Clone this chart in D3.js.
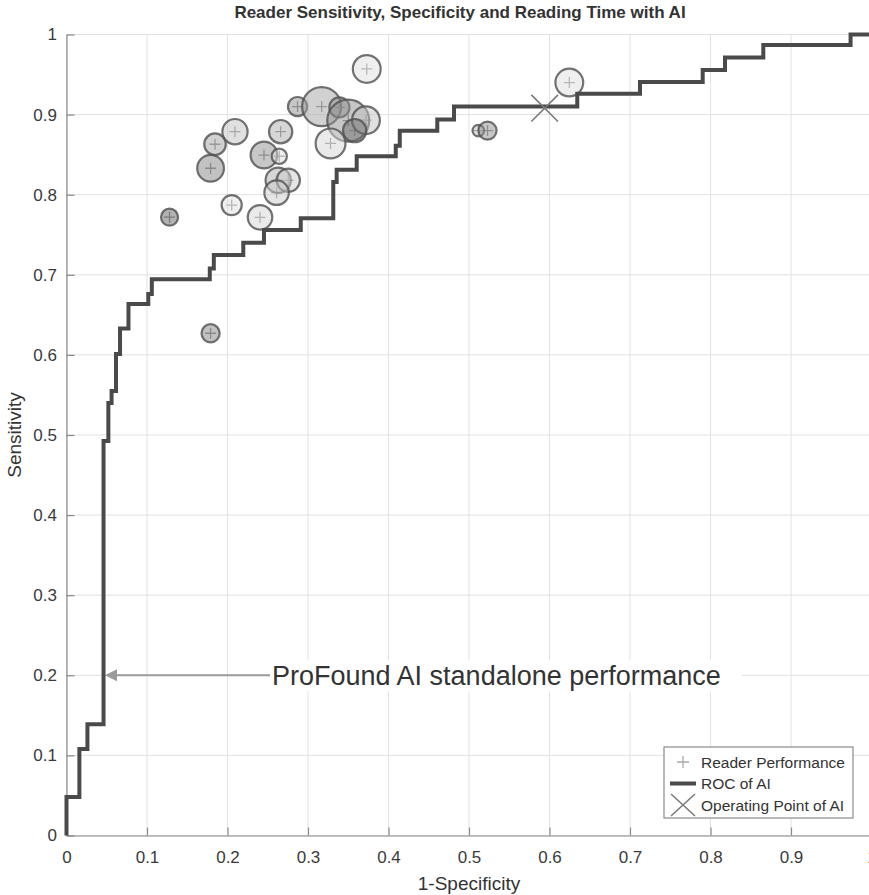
<!DOCTYPE html>
<html>
<head>
<meta charset="utf-8">
<script src="https://cdn.jsdelivr.net/npm/d3@7"></script>
<style>
  html, body { margin: 0; padding: 0; background: #fff; }
  svg { display: block; font-family: "Liberation Sans", Arial, Helvetica, sans-serif; }
</style>
</head>
<body>
<div id="chart"></div>
<script>
// ---------------- data ----------------
const titleText = "Reader Sensitivity, Specificity and Reading Time with AI";
const xLabelText = "1-Specificity";
const yLabelText = "Sensitivity";
const annotationText = "ProFound AI standalone performance";
const annotationSens = 0.2;
const annotationTargetFPR = 0.046;

const tickValues = [0, 0.1, 0.2, 0.3, 0.4, 0.5, 0.6, 0.7, 0.8, 0.9, 1];
const tickLabels = ["0", "0.1", "0.2", "0.3", "0.4", "0.5", "0.6", "0.7", "0.8", "0.9", "1"];

// ROC of AI: (fpr at end of horizontal run, sensitivity level of that run)
const rocFPR  = [0, 0.016, 0.026, 0.046, 0.052, 0.056, 0.0615, 0.0665, 0.077, 0.1016, 0.106, 0.178, 0.183, 0.2196, 0.2453, 0.291, 0.3314, 0.3356, 0.3605, 0.409, 0.414, 0.4606, 0.4814, 0.6345, 0.7124, 0.7903, 0.818, 0.8656, 0.974, 1.0];
const rocSens = [0, 0.048, 0.108, 0.139, 0.4925, 0.54, 0.555, 0.601, 0.633, 0.6635, 0.676, 0.6944, 0.708, 0.7247, 0.740, 0.756, 0.7705, 0.816, 0.831, 0.848, 0.861, 0.8799, 0.894, 0.91, 0.926, 0.9408, 0.9557, 0.9713, 0.987, 1.0];

// Operating point of AI
const opFPR = 0.594;
const opSens = 0.908;

// Reader performance (bubbles)
const readerFPR   = [0.373, 0.287, 0.317, 0.339, 0.350, 0.372, 0.358, 0.328, 0.266, 0.2093, 0.1845, 0.179, 0.2453, 0.2643, 0.263, 0.2755, 0.261, 0.2052, 0.2404, 0.128, 0.179, 0.5116, 0.523, 0.6246];
const readerSens  = [0.957, 0.910, 0.910, 0.909, 0.8925, 0.893, 0.880, 0.864, 0.8787, 0.8787, 0.863, 0.833, 0.8495, 0.848, 0.818, 0.818, 0.8025, 0.787, 0.7718, 0.772, 0.627, 0.880, 0.880, 0.940];
const readerTime  = [40, 19, 79, 21, 91, 40, 28, 46, 28, 33, 24, 37, 37, 12, 33, 28, 31, 21, 31, 15, 17, 7, 17, 40];
const readerShade = [0.15, 0.55, 0.45, 0.55, 0.55, 0.3, 0.7, 0.2, 0.4, 0.3, 0.45, 0.6, 0.55, 0.15, 0.4, 0.25, 0.25, 0.15, 0.2, 0.75, 0.6, 0.3, 0.55, 0.15];

const legendLabels = ["Reader Performance", "ROC of AI", "Operating Point of AI"];

// ---------------- layout ----------------
const W = 869, H = 895;
const svg = d3.select("#chart").append("svg").attr("width", W).attr("height", H);

const x = d3.scaleLinear().domain([0, 1]).range([66.5, 871.5]);
const y = d3.scaleLinear().domain([0, 1]).range([835.5, 34.5]);
const r = d3.scaleSqrt().domain([0, 100]).range([0, 22]);
const shadeColor = d3.scaleLinear().domain([0, 1]).range(["#ffffff", "#333333"]);

// grid
const grid = svg.append("g");
grid.selectAll("line.v").data(tickValues).join("line")
  .attr("x1", d => x(d)).attr("x2", d => x(d))
  .attr("y1", y(0)).attr("y2", y(1))
  .attr("stroke", "#e2e2e2").attr("stroke-width", 1);
grid.selectAll("line.h").data(tickValues).join("line")
  .attr("x1", x(0)).attr("x2", x(1))
  .attr("y1", d => y(d)).attr("y2", d => y(d))
  .attr("stroke", "#e2e2e2").attr("stroke-width", 1);

// axes
const fmt = (d) => tickLabels[tickValues.indexOf(d)];
const xAxis = d3.axisBottom(x).tickValues(tickValues).tickFormat(fmt)
  .tickSizeInner(-8).tickSizeOuter(0).tickPadding(15);
const yAxis = d3.axisLeft(y).tickValues(tickValues).tickFormat(fmt)
  .tickSizeInner(-8).tickSizeOuter(0).tickPadding(9.5);

const gx = svg.append("g").attr("transform", `translate(0,${y(0)})`).call(xAxis);
const gy = svg.append("g").attr("transform", `translate(${x(0)},0)`).call(yAxis);
[gx, gy].forEach(g => {
  g.select(".domain").attr("stroke", "#8a8a8a").attr("stroke-width", 1.2);
  g.selectAll(".tick line").attr("stroke", "#8a8a8a").attr("stroke-width", 1.2);
  g.selectAll(".tick text").attr("fill", "#3a3a3a").style("font-size", "17px")
    .style("font-family", "'Liberation Sans', Arial, Helvetica, sans-serif");
});

// annotation (background, arrow, text)
const annY = y(annotationSens);
svg.append("rect").attr("x", 262).attr("y", annY - 15).attr("width", 480).attr("height", 31).attr("fill", "#fff");
svg.append("line").attr("x1", 270).attr("x2", x(annotationTargetFPR) + 12)
  .attr("y1", annY).attr("y2", annY).attr("stroke", "#9a9a9a").attr("stroke-width", 2);
svg.append("path")
  .attr("d", `M${x(annotationTargetFPR) + 1.5},${annY} l12,-6 l0,12 z`)
  .attr("fill", "#9a9a9a");
svg.append("text").attr("x", 272).attr("y", annY + 10)
  .attr("fill", "#333").style("font-size", "27px").text(annotationText);

// reader plus markers (under bubbles)
const idx = d3.range(readerFPR.length);
const plusSize = 5.5;
svg.append("g").selectAll("path").data(idx).join("path")
  .attr("d", i => `M${x(readerFPR[i]) - plusSize},${y(readerSens[i])}h${2 * plusSize}M${x(readerFPR[i])},${y(readerSens[i]) - plusSize}v${2 * plusSize}`)
  .attr("stroke", "#8f8f8f").attr("stroke-width", 1.3).attr("fill", "none");

// bubbles
svg.append("g").selectAll("circle").data(idx).join("circle")
  .attr("cx", i => x(readerFPR[i]))
  .attr("cy", i => y(readerSens[i]))
  .attr("r", i => r(readerTime[i]))
  .attr("fill", i => shadeColor(readerShade[i]))
  .attr("fill-opacity", 0.5)
  .attr("stroke", "#505050").attr("stroke-opacity", 0.8).attr("stroke-width", 2.2);

// ROC line
const rocPts = rocFPR.map((f, i) => [f, rocSens[i]]);
svg.append("path")
  .attr("d", d3.line().x(d => x(d[0])).y(d => y(d[1])).curve(d3.curveStepBefore)(rocPts))
  .attr("fill", "none").attr("stroke", "#4a4a4a").attr("stroke-width", 4);

// operating point X
const xs = 13.3;
svg.append("path")
  .attr("d", `M${x(opFPR) - xs},${y(opSens) - xs}L${x(opFPR) + xs},${y(opSens) + xs}M${x(opFPR) - xs},${y(opSens) + xs}L${x(opFPR) + xs},${y(opSens) - xs}`)
  .attr("stroke", "#7a7a7a").attr("stroke-width", 1.6).attr("fill", "none");

// title and labels
svg.append("text").attr("x", 460).attr("y", 17.5).attr("text-anchor", "middle")
  .attr("fill", "#333").style("font-size", "17px").style("font-weight", "bold").text(titleText);
svg.append("text").attr("x", 469).attr("y", 890).attr("text-anchor", "middle")
  .attr("fill", "#333").style("font-size", "19px").text(xLabelText);
svg.append("text").attr("transform", `translate(21,${y(0.5)}) rotate(-90)`).attr("text-anchor", "middle")
  .attr("fill", "#333").style("font-size", "19px").text(yLabelText);

// legend
const lg = svg.append("g");
const lx0 = 664, lx1 = 853, ly0 = 747, ly1 = 818;
lg.append("rect").attr("x", lx0).attr("y", ly0).attr("width", lx1 - lx0).attr("height", ly1 - ly0)
  .attr("fill", "#fff").attr("stroke", "#8a8a8a").attr("stroke-width", 1.2);
const rowY = [762, 783.5, 805];
const iconX = 683;
lg.append("path").attr("d", `M${iconX - 6},${rowY[0]}h12M${iconX},${rowY[0] - 6}v12`)
  .attr("stroke", "#aaa").attr("stroke-width", 1.3);
lg.append("line").attr("x1", iconX - 13).attr("x2", iconX + 13).attr("y1", rowY[1]).attr("y2", rowY[1])
  .attr("stroke", "#4a4a4a").attr("stroke-width", 4);
lg.append("path").attr("d", `M${iconX - 12},${rowY[2] - 11}L${iconX + 12},${rowY[2] + 11}M${iconX - 12},${rowY[2] + 11}L${iconX + 12},${rowY[2] - 11}`)
  .attr("stroke", "#7a7a7a").attr("stroke-width", 1.6).attr("fill", "none");
lg.selectAll("text").data(legendLabels).join("text")
  .attr("x", 701).attr("y", (d, i) => rowY[i] + 5.5)
  .attr("fill", "#333").style("font-size", "15.5px").text(d => d);
</script>
</body>
</html>
